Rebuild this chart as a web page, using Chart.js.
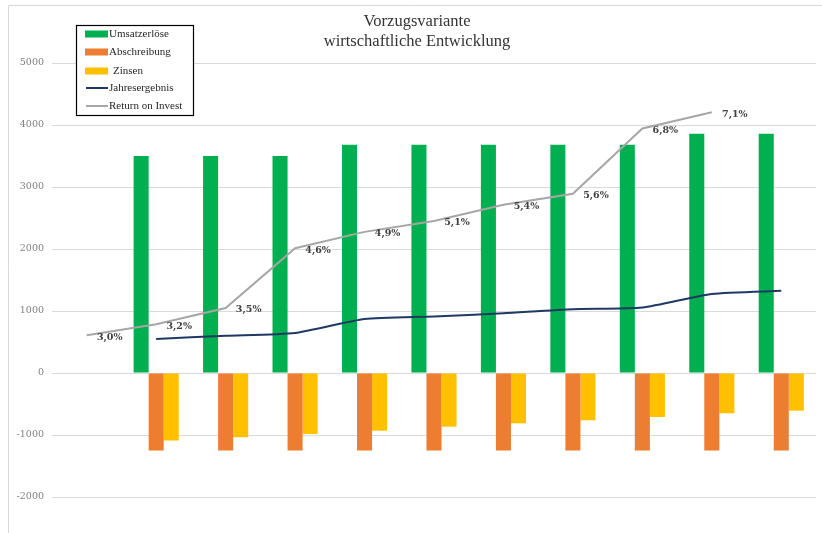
<!DOCTYPE html>
<html>
<head>
<meta charset="utf-8">
<script src="https://cdn.jsdelivr.net/npm/chart.js@4.4.0/dist/chart.umd.min.js"></script>
<style>
body{margin:0;background:#fff;}
#wrap{width:822px;height:533px;}
</style>
</head>
<body>
<div id="wrap"><canvas id="chart" width="822" height="533"></canvas></div>
<script>
// values
var categories = ['', '1', '2', '3', '4', '5', '6', '7', '8', '9', '10'];
var umsatz = [null, 3500, 3500, 3500, 3680, 3680, 3680, 3680, 3680, 3860, 3860];
var abschreibung = [null, -1250, -1250, -1250, -1250, -1250, -1250, -1250, -1250, -1250, -1250];
var zinsen = [null, -1090, -1038, -984, -930, -866, -812, -763, -710, -650, -608];
var jahresergebnis = [null, 550, 600, 645, 870, 910, 965, 1030, 1055, 1275, 1325];
var roi = [3.0, 3.2, 3.5, 4.6, 4.9, 5.1, 5.4, 5.6, 6.8, 7.1, null];
var yTicks = [-2000, -1000, 0, 1000, 2000, 3000, 4000, 5000];
var titleLines = ['Vorzugsvariante', 'wirtschaftliche Entwicklung'];

var framePlugin = {
	id: 'frame',
	beforeDraw: function (chart) {
		var ctx = chart.ctx;
		ctx.save();
		ctx.strokeStyle = '#d9d9d9';
		ctx.lineWidth = 1;
		ctx.beginPath();
		ctx.moveTo(8.5, chart.height);
		ctx.lineTo(8.5, 5.5);
		ctx.lineTo(chart.width, 5.5);
		ctx.stroke();
		// title
		ctx.fillStyle = '#333';
		ctx.font = '16.5px "Liberation Serif"';
		ctx.textAlign = 'center';
		ctx.textBaseline = 'alphabetic';
		ctx.fillText(titleLines[0], 417, 26);
		ctx.fillText(titleLines[1], 417, 46);
		ctx.restore();
	}
};

var extrasPlugin = {
	id: 'extras',
	afterDraw: function (chart) {
		var ctx = chart.ctx;
		ctx.save();
		// percent labels on the Return on Invest line
		var meta = chart.getDatasetMeta(4);
		ctx.font = 'bold 9.5px "DejaVu Serif"';
		ctx.fillStyle = '#404040';
		ctx.textAlign = 'center';
		ctx.textBaseline = 'middle';
		meta.data.forEach(function (pt, i) {
			if (roi[i] == null) return;
			ctx.fillText(roi[i].toFixed(1).replace('.', ',') + '%', pt.x + 23, pt.y + 2);
		});

		// legend box
		ctx.fillStyle = '#fff';
		ctx.fillRect(76, 25, 117, 90);
		ctx.strokeStyle = '#000';
		ctx.lineWidth = 1.2;
		ctx.strokeRect(76.5, 25.5, 117, 90);
		var rows = [34, 52, 71, 88, 106];
		ctx.font = '11px "Liberation Serif"';
		ctx.textAlign = 'left';
		chart.data.datasets.forEach(function (ds, i) {
			var y = rows[i];
			if (ds.type === 'line') {
				ctx.strokeStyle = ds.borderColor;
				ctx.lineWidth = 2;
				ctx.beginPath();
				ctx.moveTo(86, y);
				ctx.lineTo(108, y);
				ctx.stroke();
			} else {
				ctx.fillStyle = ds.backgroundColor;
				ctx.fillRect(85, y - 3.5, 23, 7);
			}
			ctx.fillStyle = '#262626';
			ctx.fillText(ds.label, i === 2 ? 113 : 109, y);
		});
		ctx.restore();
	}
};

var ctx = document.getElementById('chart').getContext('2d');
var chart = new Chart(ctx, {
	type: 'bar',
	data: {
		labels: categories,
		datasets: [
			{ type: 'bar', label: 'Umsatzerlöse', data: umsatz, backgroundColor: '#00b050', order: 1 },
			{ type: 'bar', label: 'Abschreibung', data: abschreibung, backgroundColor: '#ed7d31', order: 1 },
			{ type: 'bar', label: 'Zinsen', data: zinsen, backgroundColor: '#ffc000', order: 1 },
			{ type: 'line', label: 'Jahresergebnis', data: jahresergebnis, borderColor: '#1f3864', borderWidth: 2,
				pointRadius: 0, tension: 0.2, yAxisID: 'y', order: 0 },
			{ type: 'line', label: 'Return on Invest', data: roi, borderColor: '#a6a6a6', borderWidth: 2,
				pointRadius: 0, tension: 0, yAxisID: 'y2', order: 0 }
		]
	},
	options: {
		responsive: false,
		devicePixelRatio: 1,
		animation: false,
		layout: { padding: { left: 8, right: 6, top: 32, bottom: 5 } },
		datasets: { bar: { categoryPercentage: 0.65, barPercentage: 1.0 } },
		plugins: { legend: { display: false }, tooltip: { enabled: false }, title: { display: false } },
		scales: {
			x: { display: false, grid: { display: false } },
			y: {
				min: -2500, max: 5500,
				afterBuildTicks: function (scale) {
					scale.ticks = yTicks.map(function (v) { return { value: v }; });
				},
				afterFit: function (scale) {
					scale.width = 44;
					scale.paddingTop = 0;
					scale.paddingBottom = 0;
				},
				grid: { color: '#d9d9d9', drawTicks: false },
				border: { display: false },
				ticks: {
					padding: 8,
					color: '#808080',
					font: { family: 'DejaVu Serif', size: 9.5 },
					callback: function (v) { return String(v); }
				}
			},
			y2: { display: false, position: 'right', min: -0.544, max: 8.574 }
		}
	},
	plugins: [framePlugin, extrasPlugin]
});
</script>
</body>
</html>
